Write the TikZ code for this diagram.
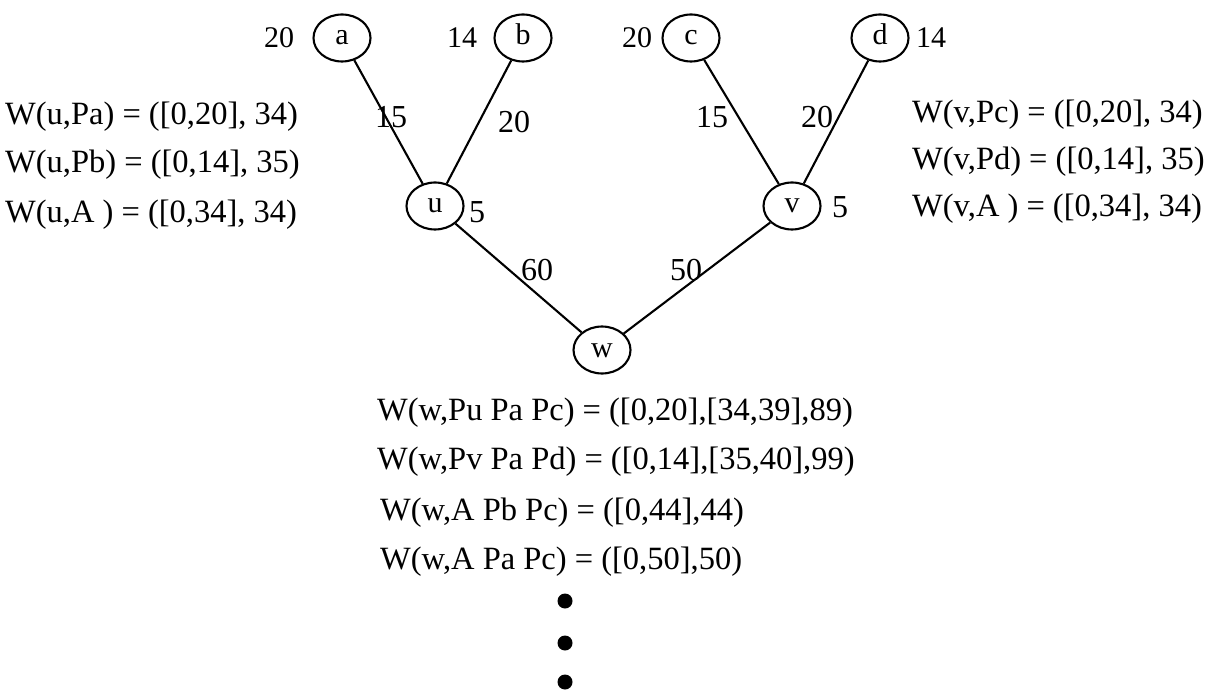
\documentclass[tikz,border=0pt]{standalone}
\usepackage{fontspec}
\setmainfont{Liberation Serif}
\usetikzlibrary{shapes.geometric}
\begin{document}
\begin{tikzpicture}[x=1pt,y=-1pt,
 vert/.style={draw, ellipse, line width=2.1pt, minimum width=57pt, minimum height=47pt, inner sep=0pt, text height=14pt, text depth=0pt, font=\fontsize{30}{32}\selectfont},
 wlab/.style={font=\fontsize{30}{32}\selectfont, inner sep=0pt},
 elab/.style={font=\fontsize{32}{34}\selectfont, inner sep=0pt},
 eqline/.style={font=\fontsize{32.5}{36}\selectfont, anchor=west, inner sep=0pt},
 conn/.style={line width=2.1pt},
 bigdot/.style={circle, fill=black, minimum size=15pt, inner sep=0pt}]
\useasboundingbox (0,0) rectangle (1217,692);
% vertices
\node[vert] (a) at (342,38) {a};
\node[vert] (b) at (523,38) {b};
\node[vert] (c) at (691,38) {c};
\node[vert] (d) at (880,38) {d};
\node[vert] (u) at (435,206) {u};
\node[vert] (v) at (792,206) {v};
\node[vert] (w) at (602,350) {w};
% connectors
\draw[conn] (a) -- (u);
\draw[conn] (b) -- (u);
\draw[conn] (c) -- (v);
\draw[conn] (d) -- (v);
\draw[conn] (u) -- (w);
\draw[conn] (v) -- (w);
% vertex weights
\node[wlab] (wa) at (279,38) {20};
\node[wlab] (wb) at (462,38) {14};
\node[wlab] (wc) at (637,38) {20};
\node[wlab] (wd) at (931,38) {14};
\node[elab] (wu) at (477,212) {5};
\node[elab] (wv) at (840,207) {5};
% edge weights
\node[elab] (eau) at (391,117) {15};
\node[elab] (ebu) at (514,122) {20};
\node[elab] (ecv) at (712,117) {15};
\node[elab] (edv) at (817,117) {20};
\node[elab] (euw) at (537,270) {60};
\node[elab] (evw) at (686,270) {50};
% left equations
\node[eqline] (l1) at (5,117) {W(u,Pa) = ([0,20], 34)};
\node[eqline] (l2) at (5,165) {W(u,Pb) = ([0,14], 35)};
\node[eqline] (l3) at (5,215) {W(u,A ) = ([0,34], 34)};
% right equations
\node[eqline] (r1) at (912,115) {W(v,Pc) = ([0,20], 34)};
\node[eqline] (r2) at (912,162) {W(v,Pd) = ([0,14], 35)};
\node[eqline] (r3) at (912,209) {W(v,A ) = ([0,34], 34)};
% bottom equations
\node[eqline] (b1) at (377,413) {W(w,Pu Pa Pc) = ([0,20],[34,39],89)};
\node[eqline] (b2) at (377,462) {W(w,Pv Pa Pd) = ([0,14],[35,40],99)};
\node[eqline] (b3) at (380,513) {W(w,A Pb Pc) = ([0,44],44)};
\node[eqline] (b4) at (380,562) {W(w,A Pa Pc) = ([0,50],50)};
% dots
\node[bigdot] (d1) at (565,601) {};
\node[bigdot] (d2) at (565,643) {};
\node[bigdot] (d3) at (565,682) {};
\end{tikzpicture}
\end{document}
